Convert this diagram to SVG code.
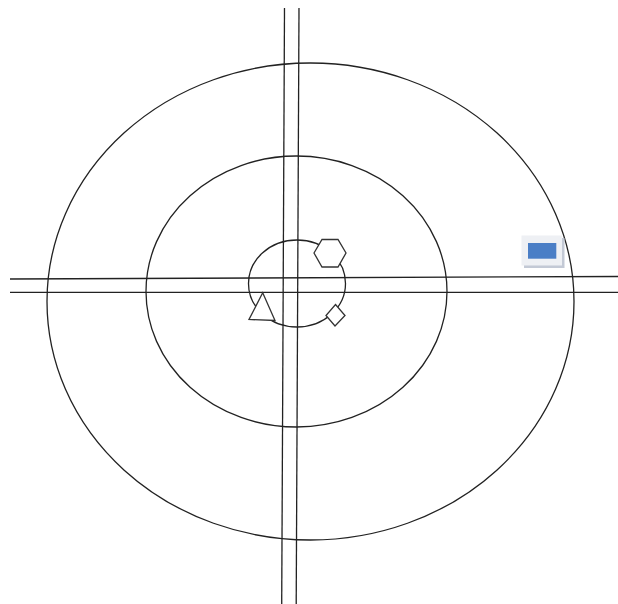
<svg xmlns="http://www.w3.org/2000/svg" width="618" height="604" viewBox="0 0 618 604">
<style>
.ln{stroke:#222;stroke-width:1.3;fill:none}
.sh{fill:#fff;stroke:#333;stroke-width:1.3}
</style>
<rect width="618" height="604" fill="#fff"/>
<g id="rings">
<ellipse class="ln" cx="310.5" cy="301.5" rx="263.5" ry="238.5"/>
<ellipse class="ln" cx="296.5" cy="291.5" rx="150.5" ry="135.5"/>
<ellipse class="ln" cx="297" cy="283.5" rx="48.5" ry="43.5"/>
</g>
<g id="axes">
<line class="ln" x1="284.5" y1="8" x2="281.7" y2="604"/>
<line class="ln" x1="299" y1="8" x2="296.2" y2="604"/>
<line class="ln" x1="10" y1="279" x2="618" y2="276.5"/>
<line class="ln" x1="10" y1="292.3" x2="618" y2="292.3"/>
</g>
<g id="hexagon">
<polygon class="sh" points="314,253 322,239.5 338,239.5 346,253 338,267 322,267"/>
</g>
<g id="triangle">
<polygon class="sh" points="262.7,292.7 249,319.5 275,320.5"/>
</g>
<g id="diamond">
<polygon class="sh" points="335.5,304.5 345,315.5 335,326 326,315.5"/>
</g>
<g id="legend">
<rect x="524" y="238" width="40.5" height="30" fill="#c3c9d5"/>
<rect x="521.5" y="235.5" width="40.5" height="30" fill="#eef0f4"/>
<rect x="528" y="243" width="28.3" height="15.7" fill="#4a7ec6"/>
</g>
</svg>
